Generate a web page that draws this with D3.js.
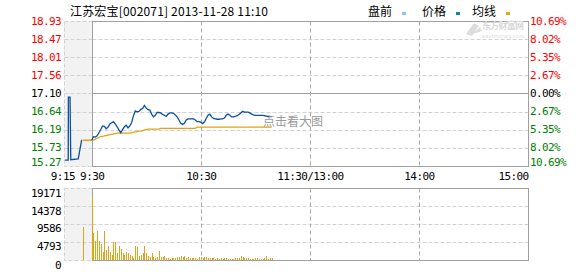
<!DOCTYPE html>
<html><head><meta charset="utf-8">
<script src="https://cdn.jsdelivr.net/npm/d3@7"></script>
<style>
html,body{margin:0;padding:0;background:#fff;}
svg{display:block;}
.num{font-family:"DejaVu Sans Mono",monospace;font-size:11px;letter-spacing:-0.6px;}
.cjk{font-family:"Noto Sans CJK SC",sans-serif;font-size:12px;}
</style></head>
<body>
<script>
// ---------- data ----------
const title = "江苏宏宝[002071] 2013-11-28 11:10";
const legendNames = ["盘前", "价格", "均线"];
const priceTicks = ["18.93","18.47","18.01","17.56","17.10","16.64","16.19","15.73","15.27"];
const pctTicks = ["10.69%","8.02%","5.35%","2.67%","0.00%","2.67%","5.35%","8.02%","10.69%"];
const volTicks = ["19171","14378","9586","4793","0"];
const timeTicks = [-15, 0, 60, 120, 180, 240];
const timeLabels = ["9:15","9:30","10:30","11:30/13:00","14:00","15:00"];
const prevClose = 17.10;
// pre-market (minutes relative to 9:30)
const preTimes = [-14.7, -12.9, -12.8, -11.9, -11.5, -7.4, -5.5];
const prePrices = [15.42, 15.42, 17.01, 17.01, 15.43, 15.45, 15.93];
const preAvgTimes = [-5, 0];
const preAvgPrices = [15.92, 15.92];
const preVolTimes = [-5];
const preVols = [8790];
// main session, one value per minute from 9:30
const prices = [15.92,16.01,16.00,16.03,16.11,16.19,16.28,16.27,16.21,16.25,
16.33,16.36,16.39,16.33,16.26,16.18,16.11,16.19,16.26,16.30,
16.23,16.28,16.37,16.54,16.66,16.64,16.65,16.70,16.72,16.80,
16.73,16.69,16.68,16.58,16.51,16.55,16.62,16.62,16.61,16.57,
16.55,16.52,16.58,16.61,16.61,16.60,16.56,16.51,16.43,16.35,
16.32,16.35,16.43,16.46,16.46,16.46,16.46,16.43,16.39,16.39,
16.38,16.34,16.38,16.47,16.55,16.58,16.51,16.47,16.46,16.45,
16.45,16.46,16.46,16.48,16.55,16.58,16.55,16.51,16.51,16.52,
16.54,16.57,16.61,16.65,16.63,16.63,16.63,16.61,16.58,16.56,
16.55,16.55,16.55,16.55,16.55,16.54,16.53,16.52,16.52,16.51];
const avgPrices = [15.92,15.93,15.95,15.97,15.99,16.01,16.02,16.03,16.04,16.05,
16.06,16.07,16.08,16.09,16.10,16.10,16.10,16.10,16.10,16.10,
16.10,16.10,16.11,16.12,16.13,16.14,16.15,16.15,16.16,16.18,
16.19,16.20,16.20,16.20,16.20,16.20,16.20,16.20,16.22,16.22,
16.22,16.22,16.22,16.22,16.22,16.22,16.22,16.22,16.22,16.22,
16.22,16.22,16.22,16.22,16.22,16.22,16.22,16.22,16.25,16.25,
16.25,16.25,16.25,16.25,16.25,16.25,16.25,16.25,16.25,16.25,
16.25,16.25,16.25,16.25,16.25,16.25,16.25,16.25,16.25,16.25,
16.25,16.25,16.25,16.25,16.25,16.25,16.25,16.25,16.25,16.25,
16.25,16.25,16.25,16.25,16.25,16.25,16.25,16.25,16.25,16.25];
const volumes = [16860,7280,5060,7720,5060,4260,2220,7720,2660,3730,
2220,1330,4880,4880,1780,3730,2930,1950,1330,2220,
1780,1330,1070,620,3730,3550,1070,1330,1780,3730,
1780,1070,710,1950,710,440,710,2400,890,890,
1070,530,530,270,440,440,620,890,890,1070,
800,1070,530,800,530,530,530,530,270,800,
800,530,800,800,530,530,530,530,270,530,
270,530,270,530,530,270,270,270,270,530,
530,530,1070,800,530,530,530,270,270,270,
530,530,270,270,270,530,1070,270,530,530];

// ---------- layout ----------
const W = 578, H = 276;
const preX = 64.4, rightX = 528;
const pTop = 21, pBot = 166, vTop = 188, vBot = 260;
const C = {red:"#ff0000", green:"#008000", black:"#000", grid:"#d2d2d2", border:"#a0a0a0",
  vgrid:"#a8a8a8", pre:"#f2f2f2", blue:"#0b4f9f", gold:"#e0a416",
  lgPre:"#8ec3ea", lgPrice:"#0a8a8a", lgAvg:"#e0a818"};

const svg = d3.select("body").append("svg").attr("width", W).attr("height", H);

const x = d3.scaleLinear().domain([-15, 240]).range([preX, rightX]);
const lo = +priceTicks[priceTicks.length-1], hi = +priceTicks[0];
const y = d3.scaleLinear().domain([lo, hi]).range([pBot, pTop]);
const yv = d3.scaleLinear().domain([0, +volTicks[0]]).range([vBot, vTop]);
const px = v => Math.round(v) + 0.5;

function panel(top, bot, levels, scale, solidMid) {
  const g = svg.append("g");
  g.append("rect").attr("x", px(x(-15))).attr("y", px(top))
    .attr("width", px(x(0)) - px(x(-15))).attr("height", px(bot) - px(top))
    .attr("fill", C.pre).attr("stroke", C.grid).attr("stroke-dasharray", "4,2");
  levels.forEach((v, i) => {
    const yy = px(scale(v));
    if (i === 0 || i === levels.length - 1) return;
    const mid = solidMid && v === prevClose;
    g.append("line").attr("x1", px(x(-15))).attr("x2", px(x(0))).attr("y1", yy).attr("y2", yy)
      .attr("stroke", C.grid).attr("stroke-dasharray", "4,2");
    g.append("line").attr("x1", px(x(0))).attr("x2", px(x(240))).attr("y1", yy).attr("y2", yy)
      .attr("stroke", mid ? C.border : C.grid).attr("stroke-dasharray", mid ? null : "4,2");
  });
  [60, 120, 180].forEach(t => {
    g.append("line").attr("x1", px(x(t))).attr("x2", px(x(t))).attr("y1", px(top)).attr("y2", px(bot))
      .attr("stroke", C.vgrid).attr("stroke-dasharray", "4,3");
  });
  g.append("rect").attr("x", px(x(0))).attr("y", px(top))
    .attr("width", px(x(240)) - px(x(0))).attr("height", px(bot) - px(top))
    .attr("fill", "none").attr("stroke", C.border);
  return g;
}

const priceLevels = priceTicks.map(Number);
panel(pTop, pBot, priceLevels, y, true);
const volLevels = volTicks.map(Number);
panel(vTop, vBot, volLevels, yv, false);

// ---------- watermark ----------
const wm = svg.append("g").attr("fill", "#d8d8d8");
wm.append("path").attr("d", "M466,34 L474,23 L479,26 L472,36 Z M473,34 L480,27 L482,31 Z").attr("opacity", 0.9);
wm.append("text").attr("x", 482).attr("y", 29).attr("font-family", "Noto Sans CJK SC").attr("font-weight", "bold")
  .attr("font-size", 9).attr("textLength", 42).text("东方财富网");
wm.append("text").attr("x", 482).attr("y", 37.5).attr("font-family", "DejaVu Sans").attr("font-size", 5)
  .attr("textLength", 42).text("eastmoney.com");

// ---------- volume bars ----------
const vg = svg.append("g").attr("fill", C.gold);
const allVol = preVolTimes.map((t, i) => ({t, v: preVols[i]}))
  .concat(volumes.map((v, i) => ({t: i, v})));
vg.selectAll("rect").data(allVol).join("rect")
  .attr("x", d => Math.round(x(d.t)))
  .attr("y", d => Math.round(yv(d.v)))
  .attr("width", 1)
  .attr("height", d => vBot - Math.round(yv(d.v)));

// ---------- price lines ----------
const line = d3.line().x(d => x(d.t)).y(d => y(d.p));
const preData = preTimes.map((t, i) => ({t, p: prePrices[i]}));
const priceData = prices.map((p, i) => ({t: i, p}));
const avgData = preAvgTimes.map((t, i) => ({t, p: preAvgPrices[i]}))
  .concat(avgPrices.map((p, i) => ({t: i, p})));
svg.append("path").attr("d", line(preData)).attr("fill", "none").attr("stroke", C.blue).attr("stroke-width", 1.3);
svg.append("path").attr("d", line(avgData)).attr("fill", "none").attr("stroke", C.gold).attr("stroke-width", 1.3);
svg.append("path").attr("d", line(priceData)).attr("fill", "none").attr("stroke", C.blue).attr("stroke-width", 1.3);

// ---------- axis labels ----------
const colorFor = v => v > prevClose ? C.red : (v < prevClose ? C.green : C.black);
const last = priceTicks.length - 1;
svg.append("g").selectAll("text").data(priceTicks).join("text").attr("class", "num")
  .attr("x", 61).attr("text-anchor", "end")
  .attr("y", (d, i) => i === last ? y(+d) - 0.5 : y(+d) + 3.5)
  .attr("fill", d => colorFor(+d)).text(d => d);
svg.append("g").selectAll("text").data(pctTicks).join("text").attr("class", "num")
  .attr("x", 530).attr("text-anchor", "start")
  .attr("y", (d, i) => i === last ? y(priceLevels[i]) - 0.5 : y(priceLevels[i]) + 3.5)
  .attr("fill", (d, i) => colorFor(priceLevels[i])).text(d => d);
svg.append("g").selectAll("text").data(volTicks).join("text").attr("class", "num")
  .attr("x", 61).attr("text-anchor", "end")
  .attr("y", d => yv(+d) + 8.5).attr("fill", C.black).text(d => d);
svg.append("g").selectAll("text").data(timeTicks).join("text").attr("class", "num")
  .attr("x", (d, i) => i === 0 ? x(d) - 1.5 : x(d) + 0.5)
  .attr("text-anchor", (d, i) => i === timeTicks.length - 1 ? "end" : "middle")
  .attr("y", 179.5).attr("fill", C.black).text((d, i) => timeLabels[i]);

// ---------- title & legend ----------
svg.append("text").attr("class", "cjk").attr("x", 70).attr("y", 16).attr("fill", "#000")
  .attr("textLength", 198).attr("lengthAdjust", "spacing").text(title);
const lgX = [368, 422, 472], lgC = [C.lgPre, C.lgPrice, C.lgAvg];
legendNames.forEach((n, i) => {
  svg.append("text").attr("class", "cjk").attr("x", lgX[i]).attr("y", 16).attr("fill", "#000").text(n);
  svg.append("rect").attr("x", lgX[i] + 34).attr("y", 12).attr("width", 4).attr("height", 3).attr("fill", lgC[i]);
});
svg.append("text").attr("class", "cjk").attr("x", 263).attr("y", 126).attr("fill", "#9a9a9a").text("点击看大图");
</script>
</body></html>
